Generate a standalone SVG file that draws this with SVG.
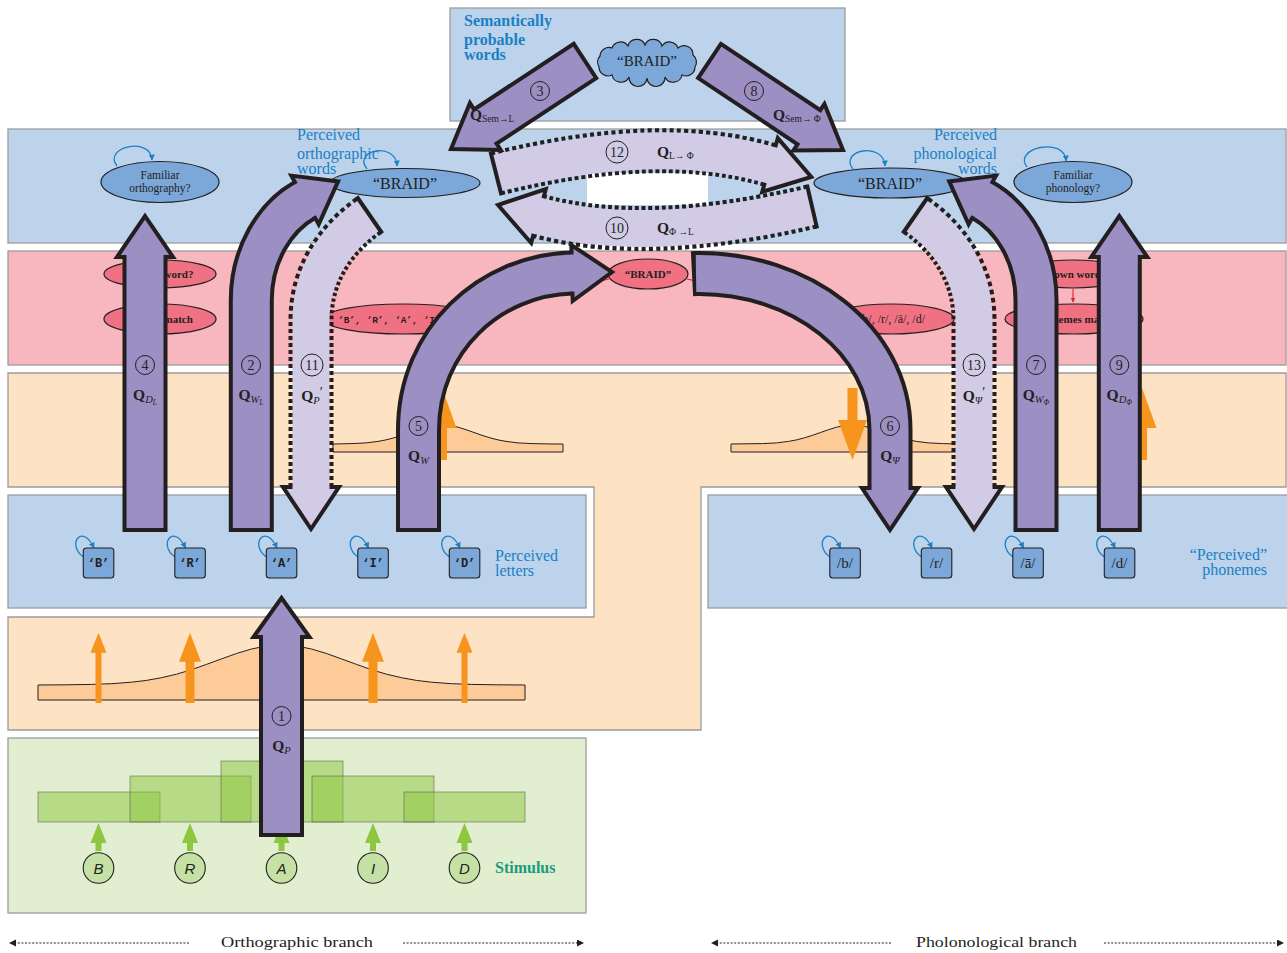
<svg xmlns="http://www.w3.org/2000/svg" width="1287" height="953" viewBox="0 0 1287 953">
<defs>
<style>
.pb{fill:#bcd3eb;stroke:#9c9c9c;stroke-width:1.3}
.pr{fill:#f8b6be;stroke:#9c9c9c;stroke-width:1.3}
.po{fill:#fde3c4;stroke:#9c9c9c;stroke-width:1.3}
.pg{fill:#e1eecf;stroke:#9c9c9c;stroke-width:1.3}
.nb{fill:#7ba7d9;stroke:#231f20;stroke-width:1.2}
.nr{fill:#f07282;stroke:#231f20;stroke-width:1.2}
.lbl{font-family:"Liberation Serif",serif;fill:#1b80c4;font-size:16px}
.ser{font-family:"Liberation Serif",serif;fill:#231f20}
.mono{font-family:"Liberation Mono",monospace;fill:#231f20;font-weight:bold}
.loop{fill:none;stroke:#1b80c4;stroke-width:1.3;marker-end:url(#la)}
.pa{fill:#9b8fc4;stroke:#231f20;stroke-width:4;stroke-linejoin:miter}
.pd{fill:none;stroke:#231f20;stroke-width:45}
.pf{fill:none;stroke:#9b8fc4;stroke-width:37}
.ld{fill:none;stroke:#231f20;stroke-width:45;stroke-dasharray:4 3}
.lf{fill:none;stroke:#d1cbe6;stroke-width:37}
.hp{fill:#9b8fc4}
.hl{fill:#d1cbe6}
.ho{fill:none;stroke:#231f20;stroke-width:4;stroke-linejoin:miter}
.te{stroke:#231f20;stroke-width:4}
.gauss{fill:#fdcb98;stroke:#231f20;stroke-width:1}
.oa{fill:#f7941d}
.ga{fill:#8dc63f}
.gbar{fill:#8dc63f;fill-opacity:0.5;stroke:#3c3c3c;stroke-opacity:0.45;stroke-width:1}
.gc{fill:#c5e1a5;stroke:#231f20;stroke-width:1.1}
.box{fill:#7ba7d9;stroke:#231f20;stroke-width:1.1}
.cn{fill:none;stroke:#231f20;stroke-width:1}
.n{font-family:"Liberation Serif",serif;font-size:14px;text-anchor:middle;fill:#231f20}
.q{font-family:"Liberation Serif",serif;fill:#231f20}
.qb{font-weight:bold;font-size:15.5px}
.qi{font-style:italic;font-size:10.5px}
.qs{font-style:italic;font-size:7.5px}
.qu{font-size:9.5px}
.dot{stroke:#231f20;stroke-width:1;stroke-dasharray:2 1.6}
.red{stroke:#e8202f;stroke-width:1.1;fill:none}
</style>
<marker id="la" markerWidth="7" markerHeight="7" refX="5.5" refY="3" orient="auto" markerUnits="userSpaceOnUse"><path d="M0,0 L6,3 L0,6 Z" fill="#1b80c4"/></marker>
<marker id="da" markerWidth="8" markerHeight="8" refX="1" refY="3.5" orient="auto" markerUnits="userSpaceOnUse"><path d="M0,0 L7,3.5 L0,7 Z" fill="#231f20"/></marker>
<marker id="ra" markerWidth="6" markerHeight="6" refX="4.5" refY="2.5" orient="auto" markerUnits="userSpaceOnUse"><path d="M0,0 L5,2.5 L0,5 Z" fill="#e8202f"/></marker>
</defs>

<rect width="1287" height="953" fill="#ffffff"/>

<g id="panels">
<rect class="pb" x="450" y="8" width="395" height="113"/>
<rect class="pb" x="8" y="129" width="1278" height="114"/>
<rect x="587" y="173" width="121" height="32" fill="#ffffff"/>
<rect class="pr" x="8" y="251" width="1278" height="114"/>
<path class="po" d="M8,373 H1286 V487 H701 V730 H8 V617 H594 V487 H8 Z"/>
<rect class="pb" x="8" y="495" width="578" height="113"/>
<rect class="pb" x="708" y="495" width="1278" height="113"/>
<rect class="pg" x="8" y="738" width="578" height="175"/>
</g>

<g id="distributions">
<path class="gauss" d="M333,452 L333,444 L352,443.6 L366,442.9 L378,441.4 L386,439.9 L394,437.8 L402,435.3 L410,432.5 L418,429.7 L426,427.2 L434,425.6 L442,425 L450,425.6 L458,427.2 L466,429.7 L474,432.5 L482,435.3 L490,437.8 L498,439.9 L506,441.4 L518,442.9 L532,443.6 L552,444 L563,444 L563,452 Z"/>
<path class="gauss" d="M731,452 L731,444 L762.5,443.6 L776.5,442.9 L788.5,441.4 L796.5,439.9 L804.5,437.8 L812.5,435.3 L820.5,432.5 L828.5,429.7 L836.5,427.2 L844.5,425.6 L852.5,425 L860.5,425.6 L868.5,427.2 L876.5,429.7 L884.5,432.5 L892.5,435.3 L900.5,437.8 L908.5,439.9 L916.5,441.4 L928.5,442.9 L942.5,443.6 L962.5,444 L974,444 L974,452 Z"/>
<path class="gauss" d="M38,700 L38,685 L66.5,684.8 L91.5,684.4 L111.5,683.7 L131.5,682.2 L146.5,680.4 L161.5,677.7 L176.5,674.2 L191.5,669.7 L206.5,664.4 L221.5,658.9 L236.5,653.5 L251.5,649 L266.5,646 L281.5,645 L296.5,646 L311.5,649 L326.5,653.5 L341.5,658.9 L356.5,664.4 L371.5,669.7 L386.5,674.2 L401.5,677.7 L416.5,680.4 L431.5,682.2 L451.5,683.7 L471.5,684.4 L496.5,684.8 L525,685 L525,700 Z"/>
<path class="oa" d="M847.5,388 V420 H838 L852.5,460 L867,420 H857.5 V388 Z"/>
<path class="oa" d="M437,460 V428 H427.5 L442,388 L456.5,428 H447 V460 Z"/>
<path class="oa" d="M1137,460 V428 H1127.5 L1142,388 L1156.5,428 H1147 V460 Z"/>
<path class="oa" d="M95.5,703 V652.7 H90.5 L98.5,632.7 L106.5,652.7 H101.5 V703 Z"/>
<path class="oa" d="M185.5,703 V661.7 H179 L190,632.7 L201,661.7 H194.5 V703 Z"/>
<path class="oa" d="M368.5,703 V661.7 H362 L373,632.7 L384,661.7 H377.5 V703 Z"/>
<path class="oa" d="M461.5,703 V652.7 H456.5 L464.5,632.7 L472.5,652.7 H467.5 V703 Z"/>
</g>

<g id="stimulus">
<rect class="gbar" x="38" y="792" width="122" height="30"/>
<rect class="gbar" x="130" y="776" width="121" height="46"/>
<rect class="gbar" x="221" y="761" width="122" height="61"/>
<rect class="gbar" x="312" y="776" width="122" height="46"/>
<rect class="gbar" x="404" y="792" width="121" height="30"/>
<path class="ga" d="M95.5,851 V843 H90.5 L98.5,823 L106.5,843 H101.5 V851 Z"/>
<path class="ga" d="M187,851 V843 H182 L190,823 L198,843 H193 V851 Z"/>
<path class="ga" d="M278.5,851 V843 H273.5 L281.5,823 L289.5,843 H284.5 V851 Z"/>
<path class="ga" d="M370,851 V843 H365 L373,823 L381,843 H376 V851 Z"/>
<path class="ga" d="M461.5,851 V843 H456.5 L464.5,823 L472.5,843 H467.5 V851 Z"/>
<g font-family="Liberation Sans, sans-serif" font-style="italic" font-size="15" text-anchor="middle" fill="#231f20">
<circle class="gc" cx="98.5" cy="868" r="15.3"/><text x="98.5" y="873.5">B</text>
<circle class="gc" cx="190" cy="868" r="15.3"/><text x="190" y="873.5">R</text>
<circle class="gc" cx="281.5" cy="868" r="15.3"/><text x="281.5" y="873.5">A</text>
<circle class="gc" cx="373" cy="868" r="15.3"/><text x="373" y="873.5">I</text>
<circle class="gc" cx="464.5" cy="868" r="15.3"/><text x="464.5" y="873.5">D</text>
</g>
<text x="495" y="873" font-family="Liberation Serif, serif" font-size="16" font-weight="bold" fill="#1a9b7e">Stimulus</text>
</g>

<g id="semantic">
<path class="nb" d="M600,56 A9,9 0 0 1 612,48 A9,9 0 0 1 628,46 A9,9 0 0 1 645,45 A9,9 0 0 1 662,46 A9,9 0 0 1 678,48 A9,9 0 0 1 693,55 A9,9 0 0 1 695,67 A9,9 0 0 1 682,75 A9,9 0 0 1 665,77 A9,9 0 0 1 647,78 A9,9 0 0 1 629,77 A9,9 0 0 1 612,75 A9,9 0 0 1 599,67 A9,9 0 0 1 600,56 Z"/>
<text class="ser" x="647" y="66" font-size="15" text-anchor="middle">“BRAID”</text>
<text class="lbl" font-weight="bold"><tspan x="464" y="26">Semantically</tspan><tspan x="464" y="45">probable</tspan><tspan x="464" y="60">words</tspan></text>
</g>

<g id="words-orth">
<ellipse class="nb" cx="160" cy="182" rx="59" ry="20.5"/>
<text class="ser" font-size="11.5" text-anchor="middle" fill="#333"><tspan x="160" y="179">Familiar</tspan><tspan x="160" y="192">orthography?</tspan></text>
<path class="loop" d="M117,166 C102,147 151,136 152,160"/>
<ellipse class="nb" cx="405" cy="183" rx="75" ry="14.5"/>
<text class="ser" x="405" y="188.5" font-size="16" text-anchor="middle">“BRAID”</text>
<text class="lbl"><tspan x="297" y="140">Perceived</tspan><tspan x="297" y="158.5">orthographic</tspan><tspan x="297" y="174">words</tspan></text>
<path class="loop" d="M367,169 C352,150 396,141 397,166"/>
</g>

<g id="words-phon">
<ellipse class="nb" cx="890" cy="183" rx="76" ry="15"/>
<text class="ser" x="890" y="188.5" font-size="16" text-anchor="middle">“BRAID”</text>
<path class="loop" d="M853,169 C838,150 884,141 885,166"/>
<ellipse class="nb" cx="1073" cy="182" rx="59" ry="20.5"/>
<text class="ser" font-size="11.5" text-anchor="middle" fill="#333"><tspan x="1073" y="179">Familiar</tspan><tspan x="1073" y="192">phonology?</tspan></text>
<path class="loop" d="M1027,167 C1012,148 1065,136 1066,161"/>
<text class="lbl" text-anchor="end"><tspan x="997" y="140">Perceived</tspan><tspan x="997" y="158.5">phonological</tspan><tspan x="997" y="174">words</tspan></text>
</g>

<g id="red-nodes" class="ser" font-weight="bold" font-size="11" text-anchor="middle">
<path class="red" d="M609,279 L460,314"/>
<path class="red" d="M687,279 L840,312"/>
<path class="red" d="M160,289 L160,302" marker-end="url(#ra)"/>
<path class="red" d="M1073,289 L1073,302" marker-end="url(#ra)"/>
<ellipse class="nr" cx="160" cy="274" rx="56" ry="14"/><text x="160" y="278">Known word?</text>
<ellipse class="nr" cx="160" cy="319" rx="56" ry="15"/><text x="160" y="323">Letters match</text>
<ellipse class="nr" cx="403" cy="319" rx="80" ry="15"/><text class="mono" x="403.5" y="322.5" font-size="9.5">‘B’, ‘R’, ‘A’, ‘I’, ‘D’</text>
<ellipse class="nr" cx="648" cy="274" rx="40" ry="15"/><text x="648" y="278">“BRAID”</text>
<ellipse class="nr" cx="891" cy="319" rx="63" ry="15"/><text x="892" y="323" font-weight="normal" font-size="12">/b/, /r/, /ā/, /d/</text>
<ellipse class="nr" cx="1073" cy="274" rx="56" ry="14"/><text x="1073" y="278">Known word?</text>
<ellipse class="nr" cx="1074" cy="319" rx="69" ry="15"/><text x="1074" y="323">Phonemes match</text>
</g>

<g id="letters">
<path class="loop" d="M83.5,557 C66,545 82,522 94,548"/>
<path class="loop" d="M175,557 C157.5,545 173.5,522 185.5,548"/>
<path class="loop" d="M266.5,557 C249,545 265,522 277,548"/>
<path class="loop" d="M358,557 C340.5,545 356.5,522 368.5,548"/>
<path class="loop" d="M449.5,557 C432,545 448,522 460,548"/>
<rect class="box" x="83.3" y="548" width="30.5" height="30" rx="3"/>
<rect class="box" x="174.8" y="548" width="30.5" height="30" rx="3"/>
<rect class="box" x="266.3" y="548" width="30.5" height="30" rx="3"/>
<rect class="box" x="357.8" y="548" width="30.5" height="30" rx="3"/>
<rect class="box" x="449.3" y="548" width="30.5" height="30" rx="3"/>
<g class="mono" font-size="12" text-anchor="middle">
<text x="98.5" y="567">‘B’</text><text x="190" y="567">‘R’</text><text x="281.5" y="567">‘A’</text><text x="373" y="567">‘I’</text><text x="464.5" y="567">‘D’</text>
</g>
<text class="lbl"><tspan x="495" y="561">Perceived</tspan><tspan x="495" y="575.5">letters</tspan></text>
</g>

<g id="phonemes">
<path class="loop" d="M830,557 C812.5,545 828.5,522 840.5,548"/>
<path class="loop" d="M921.5,557 C904,545 920,522 932,548"/>
<path class="loop" d="M1013,557 C995.5,545 1011.5,522 1023.5,548"/>
<path class="loop" d="M1104.5,557 C1087,545 1103,522 1115,548"/>
<rect class="box" x="829.8" y="548" width="30.5" height="30" rx="3"/>
<rect class="box" x="921.3" y="548" width="30.5" height="30" rx="3"/>
<rect class="box" x="1012.8" y="548" width="30.5" height="30" rx="3"/>
<rect class="box" x="1104.3" y="548" width="30.5" height="30" rx="3"/>
<g class="ser" font-size="15" text-anchor="middle">
<text x="845" y="568">/b/</text><text x="936.5" y="568">/r/</text><text x="1028" y="568">/ā/</text><text x="1119.5" y="568">/d/</text>
</g>
<text class="lbl" text-anchor="end"><tspan x="1267" y="560">“Perceived”</tspan><tspan x="1267" y="575">phonemes</tspan></text>
</g>

<g id="connectors">
<!-- 10: Phi -> L -->
<path class="ld" d="M812,206.5 Q646,245.2 538.5,216"/>
<path class="lf" d="M812,206.5 Q646,245.2 538.5,216"/>
<polygon class="hl" points="544.8,198.5 545.8,189 498,205 531.2,243 535.1,234.2"/>
<path class="ho" d="M543.4,198.2 L545.8,189 L498,205 L531.2,243 L533.7,233.9"/>
<line class="te" x1="806.9" y1="184.6" x2="817.1" y2="228.4"/>
<!-- 12: L -> Phi -->
<path class="ld" d="M496,173.5 Q659.2,132.6 770,165"/>
<path class="lf" d="M496,173.5 Q659.2,132.6 770,165"/>
<polygon class="hl" points="763.4,182.3 762.2,191.9 811.3,177 777.8,138.1 773.7,146.8"/>
<path class="ho" d="M764.8,182.8 L762.2,191.9 L811.3,177 L777.8,138.1 L775.2,147.2"/>
<line class="te" x1="490.5" y1="151.7" x2="501.5" y2="195.3"/>
<!-- 3 -->
<polygon class="pa" points="596.25,78.14 496.55,143.64 500.67,149.91 451,149 469.93,103.09 474.05,109.36 573.75,43.86"/>
<!-- 8 -->
<polygon class="pa" points="720.88,43.94 820.28,110.14 824.44,103.9 843,150 793.36,150.5 797.52,144.26 698.12,78.06"/>
<!-- 11 -->
<path class="ld" d="M311,487 V320 C311,275 335,239 369.5,215"/>
<path class="lf" d="M311,487 V320 C311,275 335,239 369.5,215"/>
<polygon class="hl" points="329.5,485.5 339,487 311,529 283,487 292.5,485.5"/>
<path class="ho" d="M329.5,487 L339,487 L311,529 L283,487 L292.5,487"/>
<line class="te" x1="356.7" y1="196.5" x2="382.3" y2="233.5"/>
<!-- 13 -->
<path class="ld" d="M974,487 V320 C974,275 950,239 915.5,215"/>
<path class="lf" d="M974,487 V320 C974,275 950,239 915.5,215"/>
<polygon class="hl" points="992.5,485.5 1002,487 974,529 946,487 955.5,485.5"/>
<path class="ho" d="M992.5,487 L1002,487 L974,529 L946,487 L955.5,487"/>
<line class="te" x1="928.3" y1="196.5" x2="902.7" y2="233.5"/>
<!-- 4 -->
<polygon class="pa" points="124.5,530 124.5,257 117,257 145,216 173,257 165.5,257 165.5,530"/>
<!-- 2 -->
<path class="pd" d="M251.3,532 V300 C251.3,255 274.5,217 305,200"/>
<path class="pf" d="M251.3,528 V300 C251.3,255 274.5,217 305,200"/>
<polygon class="hp" points="312.8,216.8 318.7,224.4 338.1,181.4 291.3,175.6 294.6,184.6"/>
<path class="ho" d="M314.1,216.1 L318.7,224.4 L338.1,181.4 L291.3,175.6 L295.9,183.9"/>
<!-- 7 -->
<path class="pd" d="M1036,532 V300 C1036,255 1012.8,217 982.3,200"/>
<path class="pf" d="M1036,528 V300 C1036,255 1012.8,217 982.3,200"/>
<polygon class="hp" points="974.5,216.8 968.6,224.4 949.2,181.4 996,175.6 992.7,184.6"/>
<path class="ho" d="M973.2,216.1 L968.6,224.4 L949.2,181.4 L996,175.6 L991.4,183.9"/>
<!-- 9 -->
<polygon class="pa" points="1098.8,530 1098.8,257 1091.3,257 1119.3,216 1147.3,257 1139.8,257 1139.8,530"/>
<!-- 5 -->
<path class="pd" d="M418.5,532 V430 C418.5,340 490,275 572,273"/>
<path class="pf" d="M418.5,528 V430 C418.5,340 490,275 572,273"/>
<polygon class="hp" points="570.9,291.5 572.7,301 612,272 571.3,245 570.1,254.5"/>
<path class="ho" d="M572.4,291.5 L572.7,301 L612,272 L571.3,245 L571.6,254.5"/>
<!-- 6 -->
<path class="pd" d="M692,273.7 L696,273.5 C800,272 890,340 890,430 V488"/>
<path class="pf" d="M696,273.5 C800,272 890,340 890,430 V488"/>
<polygon class="hp" points="908.5,486.5 918,488 890,530 862,488 871.5,486.5"/>
<path class="ho" d="M908.5,488 L918,488 L890,530 L862,488 L871.5,488"/>
<!-- 1 -->
<polygon class="pa" points="261,835 261,637 253.5,637 281.5,598 309.5,637 302,637 302,835"/>
</g>

<g id="labels">
<circle class="cn" cx="540" cy="91" r="9.5"/><text class="n" x="540" y="96">3</text>
<text class="q" x="470" y="120"><tspan class="qb">Q</tspan><tspan class="qu" dy="2">Sem→L</tspan></text>
<circle class="cn" cx="754" cy="91" r="9.5"/><text class="n" x="754" y="96">8</text>
<text class="q" x="773" y="120"><tspan class="qb">Q</tspan><tspan class="qu" dy="2">Sem→ Φ</tspan></text>
<circle class="cn" cx="617" cy="152" r="11"/><text class="n" x="617" y="157">12</text>
<text class="q" x="657" y="157"><tspan class="qb">Q</tspan><tspan class="qu" dy="2">L→ Φ</tspan></text>
<circle class="cn" cx="617" cy="228" r="11"/><text class="n" x="617" y="233">10</text>
<text class="q" x="657" y="233"><tspan class="qb">Q</tspan><tspan class="qu" dy="2">Φ →L</tspan></text>
<circle class="cn" cx="145" cy="365" r="9.5"/><text class="n" x="145" y="370">4</text>
<text class="q" x="145" y="400" text-anchor="middle"><tspan class="qb">Q</tspan><tspan class="qi" dy="3">D</tspan><tspan class="qs" dy="1.5">L</tspan></text>
<circle class="cn" cx="251" cy="365" r="9.5"/><text class="n" x="251" y="370">2</text>
<text class="q" x="251" y="400" text-anchor="middle"><tspan class="qb">Q</tspan><tspan class="qi" dy="3">W</tspan><tspan class="qs" dy="1.5">L</tspan></text>
<circle class="cn" cx="312" cy="365" r="11"/><text class="n" x="312" y="370">11</text>
<text class="q" x="312" y="401" text-anchor="middle"><tspan class="qb">Q</tspan><tspan class="qi" dy="3">P</tspan><tspan font-size="14" dy="-7">′</tspan></text>
<circle class="cn" cx="418.5" cy="426" r="9.5"/><text class="n" x="418.5" y="431">5</text>
<text class="q" x="418.5" y="461" text-anchor="middle"><tspan class="qb">Q</tspan><tspan class="qi" dy="3">W</tspan></text>
<circle class="cn" cx="281.5" cy="716" r="9.5"/><text class="n" x="281.5" y="721">1</text>
<text class="q" x="281.5" y="751" text-anchor="middle"><tspan class="qb">Q</tspan><tspan class="qi" dy="3">P</tspan></text>
<circle class="cn" cx="890" cy="426" r="9.5"/><text class="n" x="890" y="431">6</text>
<text class="q" x="890" y="461" text-anchor="middle"><tspan class="qb">Q</tspan><tspan class="qi" dy="3">Ψ</tspan></text>
<circle class="cn" cx="974" cy="365" r="11"/><text class="n" x="974" y="370">13</text>
<text class="q" x="974" y="401" text-anchor="middle"><tspan class="qb">Q</tspan><tspan class="qi" dy="3">Ψ</tspan><tspan font-size="14" dy="-7">′</tspan></text>
<circle class="cn" cx="1036" cy="365" r="9.5"/><text class="n" x="1036" y="370">7</text>
<text class="q" x="1036" y="400" text-anchor="middle"><tspan class="qb">Q</tspan><tspan class="qi" dy="3">W</tspan><tspan class="qs" dy="1.5">Φ</tspan></text>
<circle class="cn" cx="1119.3" cy="365" r="9.5"/><text class="n" x="1119.3" y="370">9</text>
<text class="q" x="1119.3" y="400" text-anchor="middle"><tspan class="qb">Q</tspan><tspan class="qi" dy="3">D</tspan><tspan class="qs" dy="1.5">Φ</tspan></text>
</g>

<g id="branches">
<line class="dot" x1="189" y1="943" x2="15" y2="943" marker-end="url(#da)"/>
<line class="dot" x1="403" y1="943" x2="578" y2="943" marker-end="url(#da)"/>
<line class="dot" x1="891" y1="943" x2="717" y2="943" marker-end="url(#da)"/>
<line class="dot" x1="1104" y1="943" x2="1278" y2="943" marker-end="url(#da)"/>
<text class="ser" x="221" y="947" font-size="15" textLength="152" lengthAdjust="spacingAndGlyphs">Orthographic branch</text>
<text class="ser" x="916" y="947" font-size="15" textLength="161" lengthAdjust="spacingAndGlyphs">Pholonological branch</text>
</g>
</svg>
